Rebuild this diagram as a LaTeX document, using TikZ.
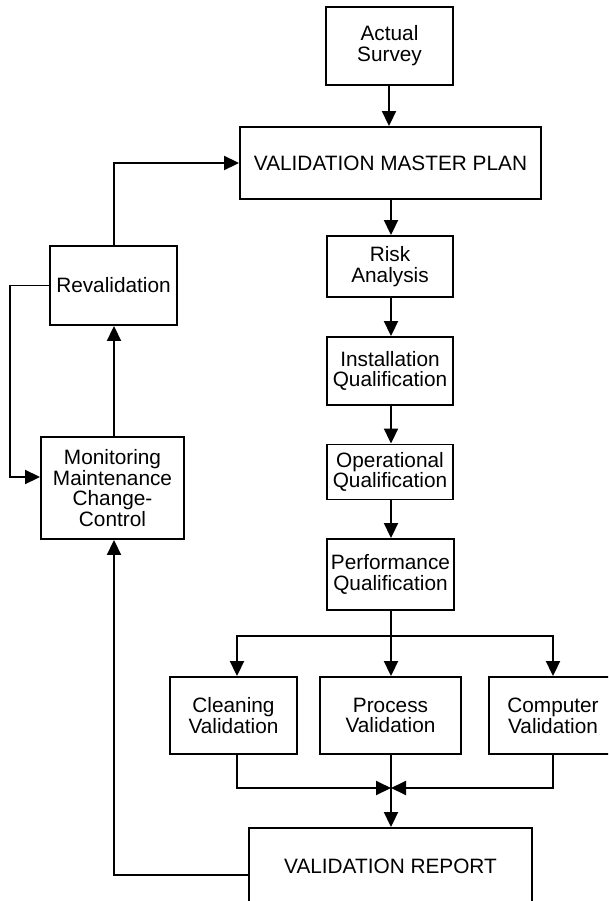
\documentclass[tikz,border=0pt]{standalone}
\usepackage{fontspec}
\setmainfont{Liberation Sans}
\usetikzlibrary{arrows.meta,calc}
\begin{document}
\begin{tikzpicture}[x=1pt,y=-1pt,
  box/.style={draw,line width=1.9pt,rectangle,inner sep=0pt,align=center,
    font=\fontsize{20.8}{20.8}\selectfont},
  conn/.style={line width=1.9pt},
  arr/.style={conn,-{Triangle[length=15pt,width=14pt]}}]
\useasboundingbox (0,0) rectangle (608,901);
\clip (0,0) rectangle (608,901);
\node[box,minimum width=127pt,minimum height=78pt] (as) at (389.5,46) {Actual\\Survey};
\node[box,minimum width=301pt,minimum height=72pt] (vmp) at (390.5,163) {VALIDATION MASTER PLAN};
\node[box,minimum width=126pt,minimum height=61pt] (risk) at (390,266.5) {Risk\\Analysis};
\node[box,minimum width=126pt,minimum height=68pt] (iq) at (390,371) {Installation\\Qualification};
\node[box,minimum width=126pt,minimum height=55pt] (oq) at (390,472) {Operational\\Qualification};
\node[box,minimum width=127pt,minimum height=71pt] (pq) at (390.5,574.5) {Performance\\Qualification};
\node[box,minimum width=127pt,minimum height=79pt] (rev) at (113.5,285.5) {Revalidation};
\node[box,minimum width=143pt,minimum height=102pt] (mon) at (112.5,488) {Monitoring\\Maintenance\\Change-\\Control};
\node[box,minimum width=127pt,minimum height=77pt] (clean) at (233.5,715.5) {Cleaning\\Validation};
\node[box,minimum width=141pt,minimum height=77pt] (proc) at (390.5,715.5) {Process\\Validation};
\node[box,minimum width=128pt,minimum height=77pt] (comp) at (553,715.5) {Computer\\Validation};
\node[box,minimum width=283pt,minimum height=76pt] (rep) at (390.5,866) {VALIDATION REPORT};
\coordinate (br) at (391,636);
\coordinate (m) at (391,788);
\coordinate (lx) at (114,0);
\draw[arr] (as.south -| 389,0) -- (vmp.north -| 389,0);
\draw[arr] (vmp.south -| 391,0) -- (risk.north -| 391,0);
\draw[arr] (risk.south -| 391,0) -- (iq.north -| 391,0);
\draw[arr] (iq.south -| 391,0) -- (oq.north -| 391,0);
\draw[arr] (oq.south -| 391,0) -- (pq.north -| 391,0);
\draw[conn] (pq.south -| br) -- (br);
\draw[arr] (br) -| ([xshift=3.5pt]clean.north);
\draw[arr] (br) -| (comp.north);
\draw[arr] (br) -- (proc.north -| br);
\draw[arr] ([xshift=3.5pt]clean.south) |- (m);
\draw[arr] (comp.south) |- (m);
\draw[arr] (proc.south -| m) -- (rep.north -| m);
\draw[arr] ([yshift=-9pt]rep.west) -| (mon.south -| lx);
\draw[arr] (mon.north -| lx) -- (rev.south -| lx);
\draw[arr] (rev.north -| lx) |- (vmp.west);
\draw[arr] (rev.west) -- ++(-39,0) |- ([yshift=11pt]mon.west);
\end{tikzpicture}
\end{document}
